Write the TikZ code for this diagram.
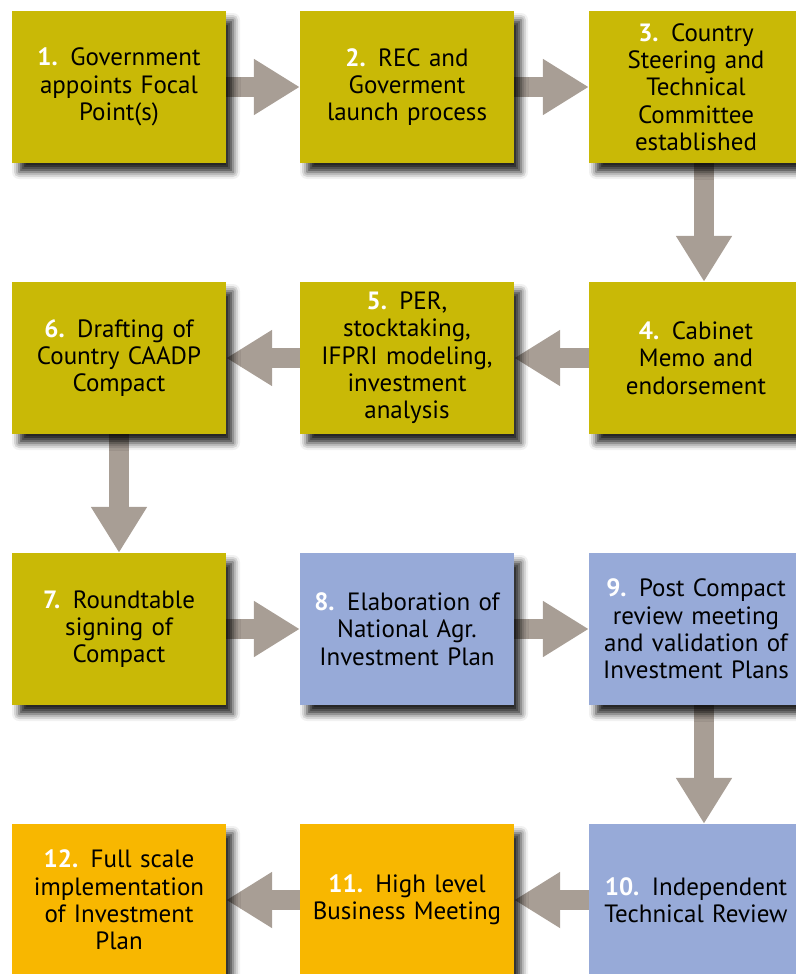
\documentclass[tikz,border=0pt]{standalone}
\usepackage{fontspec}
\setmainfont{PT Sans}
\usepackage{xcolor}
\usetikzlibrary{arrows.meta,shadows.blur,backgrounds}
\definecolor{stepolive}{HTML}{C9B906}
\definecolor{stepblue}{HTML}{97AAD8}
\definecolor{steporange}{HTML}{F8B700}
\definecolor{flowgray}{HTML}{A89E95}
\newcommand{\stepno}[1]{\textcolor{white}{\textbf{#1.}}}

\begin{document}
\begin{tikzpicture}[x=1pt,y=1pt,
    stepbox/.style={minimum width=214pt,minimum height=152pt,inner sep=0pt,
      text width=206pt,align=center,font=\fontsize{25}{27.3}\selectfont,
      blur shadow={shadow xshift=7pt,shadow yshift=-9pt,shadow opacity=85,shadow blur radius=7pt}},
    olivebox/.style={stepbox,fill=stepolive},
    bluebox/.style={stepbox,fill=stepblue},
    orangebox/.style={stepbox,fill=steporange},
    flow/.style={draw=flowgray,line width=20pt,-{Triangle[length=46pt,width=53pt]}}]
    \useasboundingbox (0,0) rectangle (795,-974);
    \node[olivebox] (s1) at (119,-87) {\stepno{1} Government\\appoints Focal\\Point(s)};
    \node[olivebox] (s2) at (407,-87) {\stepno{2} REC and\\Goverment\\launch process};
    \node[olivebox] (s3) at (696,-87) {\stepno{3} Country\\Steering and\\Technical\\Committee\\established};
    \node[olivebox] (s4) at (696,-358) {\stepno{4} Cabinet\\Memo and\\endorsement};
    \node[olivebox] (s5) at (407,-358) {\stepno{5} PER,\\stocktaking,\\IFPRI modeling,\\investment\\analysis};
    \node[olivebox] (s6) at (119,-358) {\stepno{6} Drafting of\\Country CAADP\\Compact};
    \node[olivebox] (s7) at (119,-629) {\stepno{7} Roundtable\\signing of\\Compact};
    \node[bluebox] (s8) at (407,-629) {\stepno{8} Elaboration of\\National Agr.\\Investment Plan};
    \node[bluebox] (s9) at (696,-629) {\stepno{9} Post Compact\\review meeting\\and validation of\\Investment Plans};
    \node[bluebox] (s10) at (696,-900) {\stepno{10} Independent\\Technical Review};
    \node[orangebox] (s11) at (407,-900) {\stepno{11} High level\\Business Meeting};
    \node[orangebox] (s12) at (119,-900) {\stepno{12} Full scale\\implementation\\of Investment\\Plan};
    \begin{scope}[on background layer]
        \foreach \a/\b in {s1.east/s2.west,s2.east/s3.west,s4.west/s5.east,s5.west/s6.east,
            s6.south/s7.north,s7.east/s8.west,s8.east/s9.west,s10.west/s11.east,s11.west/s12.east}
            \draw[flow] (\a) -- (\b);
        \draw[flow] ([xshift=8pt]s3.south) -- ([xshift=8pt]s4.north);
        \draw[flow] ([xshift=8pt]s9.south) -- ([xshift=8pt]s10.north);
    \end{scope}
\end{tikzpicture}
\end{document}
